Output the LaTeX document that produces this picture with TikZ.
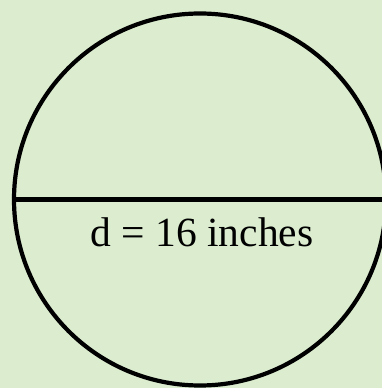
\documentclass[tikz,border=0pt]{standalone}
\usepackage{fontspec}
\setmainfont{Liberation Serif}
\usetikzlibrary{positioning}
\definecolor{Mint}{HTML}{DCEDCF}

\begin{document}
\begin{tikzpicture}[x=1pt, y=1pt,
    rim/.style={circle, draw=black, line width=4.2pt, minimum size=372pt, inner sep=0pt},
    diam/.style={draw=black, line width=4.2pt},
    every node/.style={font=\fontsize{41.5}{48}\selectfont}
]
\fill[Mint] (0,0) rectangle (382,388);
\useasboundingbox (0,0) rectangle (382,388);

% Circle and its diameter
\node[rim] (rim) at (200,188.5) {};
\draw[diam] (rim.west) -- (rim.east);

% Label
\node[anchor=base] (len) at (202,141) {d = 16 inches};

\end{tikzpicture}
\end{document}
